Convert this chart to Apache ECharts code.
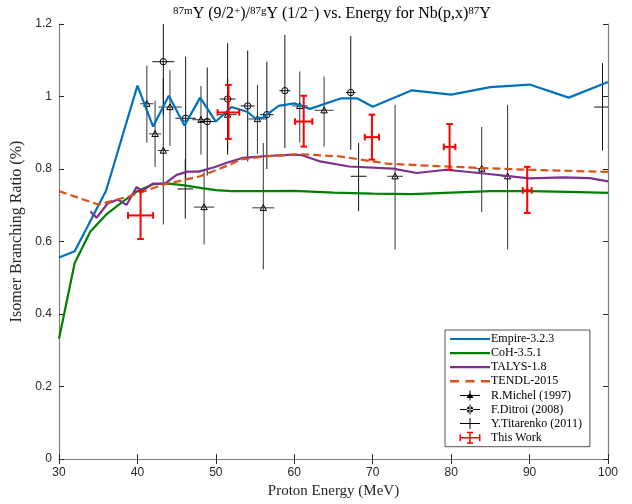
<!DOCTYPE html>
<html><head><meta charset="utf-8">
<script src="https://cdn.jsdelivr.net/npm/echarts@6/dist/echarts.min.js"></script>
<style>html,body{margin:0;padding:0;background:#fff}#c{width:632px;height:504px}</style>
</head><body><div id="c"></div>
<script>
// ---- data ----
const xMin = 30, xMax = 100, xStep = 10;
const yMin = 0, yMax = 1.2, yStep = 0.2;

const empireE = [30,32,36,38,40,42,44,46,48,50,52,54,55,56,58,60,62,66,68,70,75,80,85,90,95,100];
const empireR = [0.556,0.573,0.740,0.885,1.030,0.917,1.002,0.920,0.997,0.931,0.971,0.958,0.940,0.942,0.974,0.981,0.966,0.995,0.995,0.972,1.017,1.005,1.026,1.033,0.997,1.040];

const cohE = [30,32,34,36,38,40,42,44,46,48,50,52,55,60,65,70,75,80,85,90,95,100];
const cohR = [0.332,0.541,0.628,0.674,0.708,0.739,0.758,0.760,0.755,0.748,0.742,0.739,0.739,0.740,0.735,0.732,0.731,0.735,0.739,0.739,0.737,0.734];

const talysE = [34,34.8,36.2,37.5,38.6,39.9,40.6,42,43.5,45,46.4,47.8,49.8,51.5,53.5,56.5,60,61,63.3,67,72.6,75.6,79.4,84.5,90,94.3,97.7,100];
const talysR = [0.683,0.666,0.705,0.716,0.701,0.750,0.740,0.760,0.760,0.784,0.793,0.793,0.805,0.818,0.831,0.836,0.840,0.838,0.821,0.807,0.801,0.789,0.798,0.787,0.774,0.777,0.775,0.766];

const tendlE = [30,35,39,43.3,48,51.8,53.1,56.5,60.7,65.8,71.8,77.3,83.7,90,100];
const tendlR = [0.739,0.702,0.725,0.757,0.780,0.812,0.826,0.835,0.841,0.835,0.815,0.809,0.803,0.798,0.792];

const michelE  = [41.2,42.25,43.3,44.15,48.1,48.5,51.5,55.3,56.05,60.7,63.8,72.85,83.9,87.2];
const michelR  = [0.980,0.897,0.851,0.971,0.936,0.695,0.950,0.938,0.693,0.974,0.962,0.780,0.801,0.780];
const michelLo = [0.873,0.806,0.647,0.864,0.840,0.592,0.850,0.842,0.523,0.873,0.862,0.578,0.681,0.578];
const michelHi = [1.085,0.989,1.050,1.073,1.029,0.794,1.050,1.032,0.872,1.069,1.055,0.977,0.916,0.977];
const michelXe = [0.85,0.77,0.7,1.5,1.1,1.3,1.15,1.15,1.4,1.0,1.2,1.0,0.7,0.75];

const ditroiE  = [43.3,46.15,48.9,51.5,54.06,56.5,58.8,67.2];
const ditroiR  = [1.096,0.940,0.931,0.993,0.974,0.950,1.016,1.011];
const ditroiLo = [0.950,0.770,0.782,0.840,0.821,0.800,0.858,0.853];
const ditroiHi = [1.250,1.110,1.080,1.147,1.127,1.096,1.170,1.167];
const ditroiXe = [1.4,1.3,1.0,1.0,0.9,0.85,0.7,0.6];

const titE  = [46.1,68.2,99.3];
const titR  = [0.745,0.780,0.971];
const titLo = [0.663,0.684,0.851];
const titHi = [0.827,0.872,1.092];
const titXe = [1.0,1.0,1.06];

const workE  = [40.4,51.6,61.2,69.9,79.8,89.7];
const workR  = [0.672,0.956,0.931,0.888,0.861,0.741];
const workLo = [0.607,0.883,0.862,0.826,0.798,0.679];
const workHi = [0.739,1.032,1.002,0.950,0.924,0.806];
const workXe = [1.6,1.38,1.1,0.91,0.74,0.57];

const names = ['Empire-3.2.3','CoH-3.5.1','TALYS-1.8','TENDL-2015','R.Michel (1997)','F.Ditroi (2008)','Y.Titarenko (2011)','This Work'];

// ---- helpers ----
const zip2 = (a,b) => a.map((v,i)=>[v,b[i]]);
const zip5 = (a,b,c,d,e) => a.map((v,i)=>[v,b[i],c[i],d[i],e[i]]);
const cl = (v,a,b)=>Math.max(a,Math.min(b,v));

function errRender(color, width, cap, marker) {
  return function(params, api) {
    const x = api.value(0), y = api.value(1), lo = api.value(2), hi = api.value(3), xe = api.value(4);
    const pC = api.coord([x,y]);
    const pLo = api.coord([x, cl(lo,yMin,yMax)]);
    const pHi = api.coord([x, cl(hi,yMin,yMax)]);
    const pL = api.coord([cl(x-xe,xMin,xMax), y]);
    const pR = api.coord([cl(x+xe,xMin,xMax), y]);
    const st = {stroke: color, lineWidth: width, fill: null};
    const ch = [
      {type:'line', shape:{x1:pLo[0],y1:pLo[1],x2:pHi[0],y2:pHi[1]}, style: st},
      {type:'line', shape:{x1:pL[0],y1:pL[1],x2:pR[0],y2:pR[1]}, style: st}
    ];
    if (cap) {
      [pLo,pHi].forEach(p=>ch.push({type:'line', shape:{x1:p[0]-cap,y1:p[1],x2:p[0]+cap,y2:p[1]}, style: st}));
      [pL,pR].forEach(p=>ch.push({type:'line', shape:{x1:p[0],y1:p[1]-cap,x2:p[0],y2:p[1]+cap}, style: st}));
    }
    if (marker === 'tri') {
      ch.push({type:'polygon', shape:{points:[[pC[0]-3.2,pC[1]+2.6],[pC[0],pC[1]-3.2],[pC[0]+3.2,pC[1]+2.6]]}, style:{stroke:'#000', lineWidth:1, fill:'none'}});
    } else if (marker === 'circ') {
      ch.push({type:'circle', shape:{cx:pC[0], cy:pC[1], r:3.2}, style:{stroke:'#000', lineWidth:1, fill:'none'}});
    }
    return {type:'group', children: ch};
  };
}

const corner = 'M0 0h0.01v0.01h-0.01Z M39.99 11.99h0.01v0.01h-0.01Z ';
const iconSolid = 'path://' + corner + 'M0 4.9h40v2.2h-40Z';
const iconDash = 'path://' + corner + 'M0 4.8h9v2.4h-9Z M15.5 4.8h9v2.4h-9Z M31 4.8h9v2.4h-9Z';
const iconMichel = 'path://' + corner + 'M10 5.5h20v1h-20Z M19.5 1h1v10h-1Z M16.5 8.5L20 3L23.5 8.5Z';
const iconDitroi = 'path://' + corner + 'M10 5.5h20v1h-20Z M19.5 1h1v10h-1Z M16.8 6A3.2 3.2 0 1 0 23.2 6A3.2 3.2 0 1 0 16.8 6Z';
const iconTit = 'path://' + corner + 'M10 5.5h20v1h-20Z M19.5 0.5h1v11h-1Z';
const iconWork = 'path://' + corner + 'M10 5.25h20v1.5h-20Z M9.5 2.5h1.5v7h-1.5Z M29 2.5h1.5v7h-1.5Z M19.25 0.5h1.5v11h-1.5Z M17 0h6v1.5h-6Z M17 10.5h6v1.5h-6Z';

const serif = 'Liberation Serif';
const sans = 'Liberation Sans';

const chart = echarts.init(document.getElementById('c'), null, {renderer:'canvas'});
chart.setOption({
  animation: false,
  backgroundColor: '#fff',
  title: {
    text: '{s|87m}Y (9/2{s|+})/{s|87g}Y (1/2{s|−}) vs. Energy for Nb(p,x){s|87}Y',
    left: 327, top: 1, textAlign: 'center',
    textStyle: {
      fontFamily: serif, fontSize: 16, fontWeight: 'normal', color: '#000',
      rich: { s: {fontFamily: serif, fontSize: 11, verticalAlign: 'top', lineHeight: 14, color:'#000'} }
    }
  },
  grid: {left: 59, right: 24, top: 24, bottom: 43, containLabel: false},
  legend: {
    orient: 'vertical', left: 445, top: 330,
    padding: [3, 8, 3, 5],
    itemWidth: 40, itemHeight: 12, itemGap: 2.1,
    backgroundColor: '#fff', borderColor: '#262626', borderWidth: 0.8, borderRadius: 0,
    textStyle: {fontFamily: serif, fontSize: 12, color: '#000', padding: [0,0,0,-4]},
    data: [
      {name: names[0], icon: iconSolid, itemStyle:{color:'#0072BD'}},
      {name: names[1], icon: iconSolid, itemStyle:{color:'#008000'}},
      {name: names[2], icon: iconSolid, itemStyle:{color:'#7E2F8E'}},
      {name: names[3], icon: iconDash, itemStyle:{color:'#D95319'}},
      {name: names[4], icon: iconMichel, itemStyle:{color:'#000'}},
      {name: names[5], icon: iconDitroi, itemStyle:{color:'#000'}},
      {name: names[6], icon: iconTit, itemStyle:{color:'#000'}},
      {name: names[7], icon: iconWork, itemStyle:{color:'#ff0000'}}
    ]
  },
  xAxis: [{
    type: 'value', min: xMin, max: xMax, interval: xStep,
    name: 'Proton Energy (MeV)', nameLocation: 'middle', nameGap: 23,
    nameTextStyle: {fontFamily: serif, fontSize: 15, color: '#262626'},
    axisLine: {show: true, lineStyle: {color: '#808080', width: 1.2}},
    axisTick: {inside: true, length: 5, lineStyle: {color: '#262626'}},
    axisLabel: {fontFamily: sans, fontSize: 12, color: '#262626', margin: 8},
    splitLine: {show: false}
  }, {
    type: 'value', min: xMin, max: xMax, interval: xStep, position: 'top',
    axisLine: {show: true, lineStyle: {color: '#808080', width: 1.2}},
    axisTick: {inside: true, length: 5, lineStyle: {color: '#262626'}},
    axisLabel: {show: false}, splitLine: {show: false}
  }],
  yAxis: [{
    type: 'value', min: yMin, max: yMax, interval: yStep,
    name: 'Isomer Branching Ratio (%)', nameLocation: 'middle', nameGap: 24,
    nameTextStyle: {fontFamily: serif, fontSize: 16, color: '#262626', padding: [0,0,0,20]},
    axisLine: {show: true, lineStyle: {color: '#808080', width: 1.2}},
    axisTick: {inside: true, length: 5, lineStyle: {color: '#262626'}},
    axisLabel: {fontFamily: sans, fontSize: 12, color: '#262626', margin: 7},
    splitLine: {show: false}
  }, {
    type: 'value', min: yMin, max: yMax, interval: yStep, position: 'right',
    axisLine: {show: true, lineStyle: {color: '#808080', width: 1.2}},
    axisTick: {inside: true, length: 5, lineStyle: {color: '#262626'}},
    axisLabel: {show: false}, splitLine: {show: false}
  }],
  series: [
    {name: names[0], type: 'line', data: zip2(empireE, empireR), showSymbol: false, symbol: 'none',
      lineStyle: {color: '#0072BD', width: 2.2}, itemStyle: {color: '#0072BD'}},
    {name: names[1], type: 'line', data: zip2(cohE, cohR), showSymbol: false, symbol: 'none',
      lineStyle: {color: '#008000', width: 2.2}, itemStyle: {color: '#008000'}},
    {name: names[2], type: 'line', data: zip2(talysE, talysR), showSymbol: false, symbol: 'none',
      lineStyle: {color: '#7E2F8E', width: 2.2}, itemStyle: {color: '#7E2F8E'}},
    {name: names[3], type: 'line', data: zip2(tendlE, tendlR), showSymbol: false, symbol: 'none',
      lineStyle: {color: '#D95319', width: 2.2, type: [8,4]}, itemStyle: {color: '#D95319'}},
    {name: names[4], type: 'custom', renderItem: errRender('#333', 1, 0, 'tri'),
      data: zip5(michelE, michelR, michelLo, michelHi, michelXe), encode: {x:0, y:1}, itemStyle:{color:'#000'}},
    {name: names[5], type: 'custom', renderItem: errRender('#111', 1, 0, 'circ'),
      data: zip5(ditroiE, ditroiR, ditroiLo, ditroiHi, ditroiXe), encode: {x:0, y:1}, itemStyle:{color:'#000'}},
    {name: names[6], type: 'custom', renderItem: errRender('#111', 1, 0, null),
      data: zip5(titE, titR, titLo, titHi, titXe), encode: {x:0, y:1}, itemStyle:{color:'#000'}},
    {name: names[7], type: 'custom', renderItem: errRender('#ff0000', 2, 3.3, null),
      data: zip5(workE, workR, workLo, workHi, workXe), encode: {x:0, y:1}, itemStyle:{color:'#ff0000'}, z: 5}
  ]
});
</script>
</body></html>
